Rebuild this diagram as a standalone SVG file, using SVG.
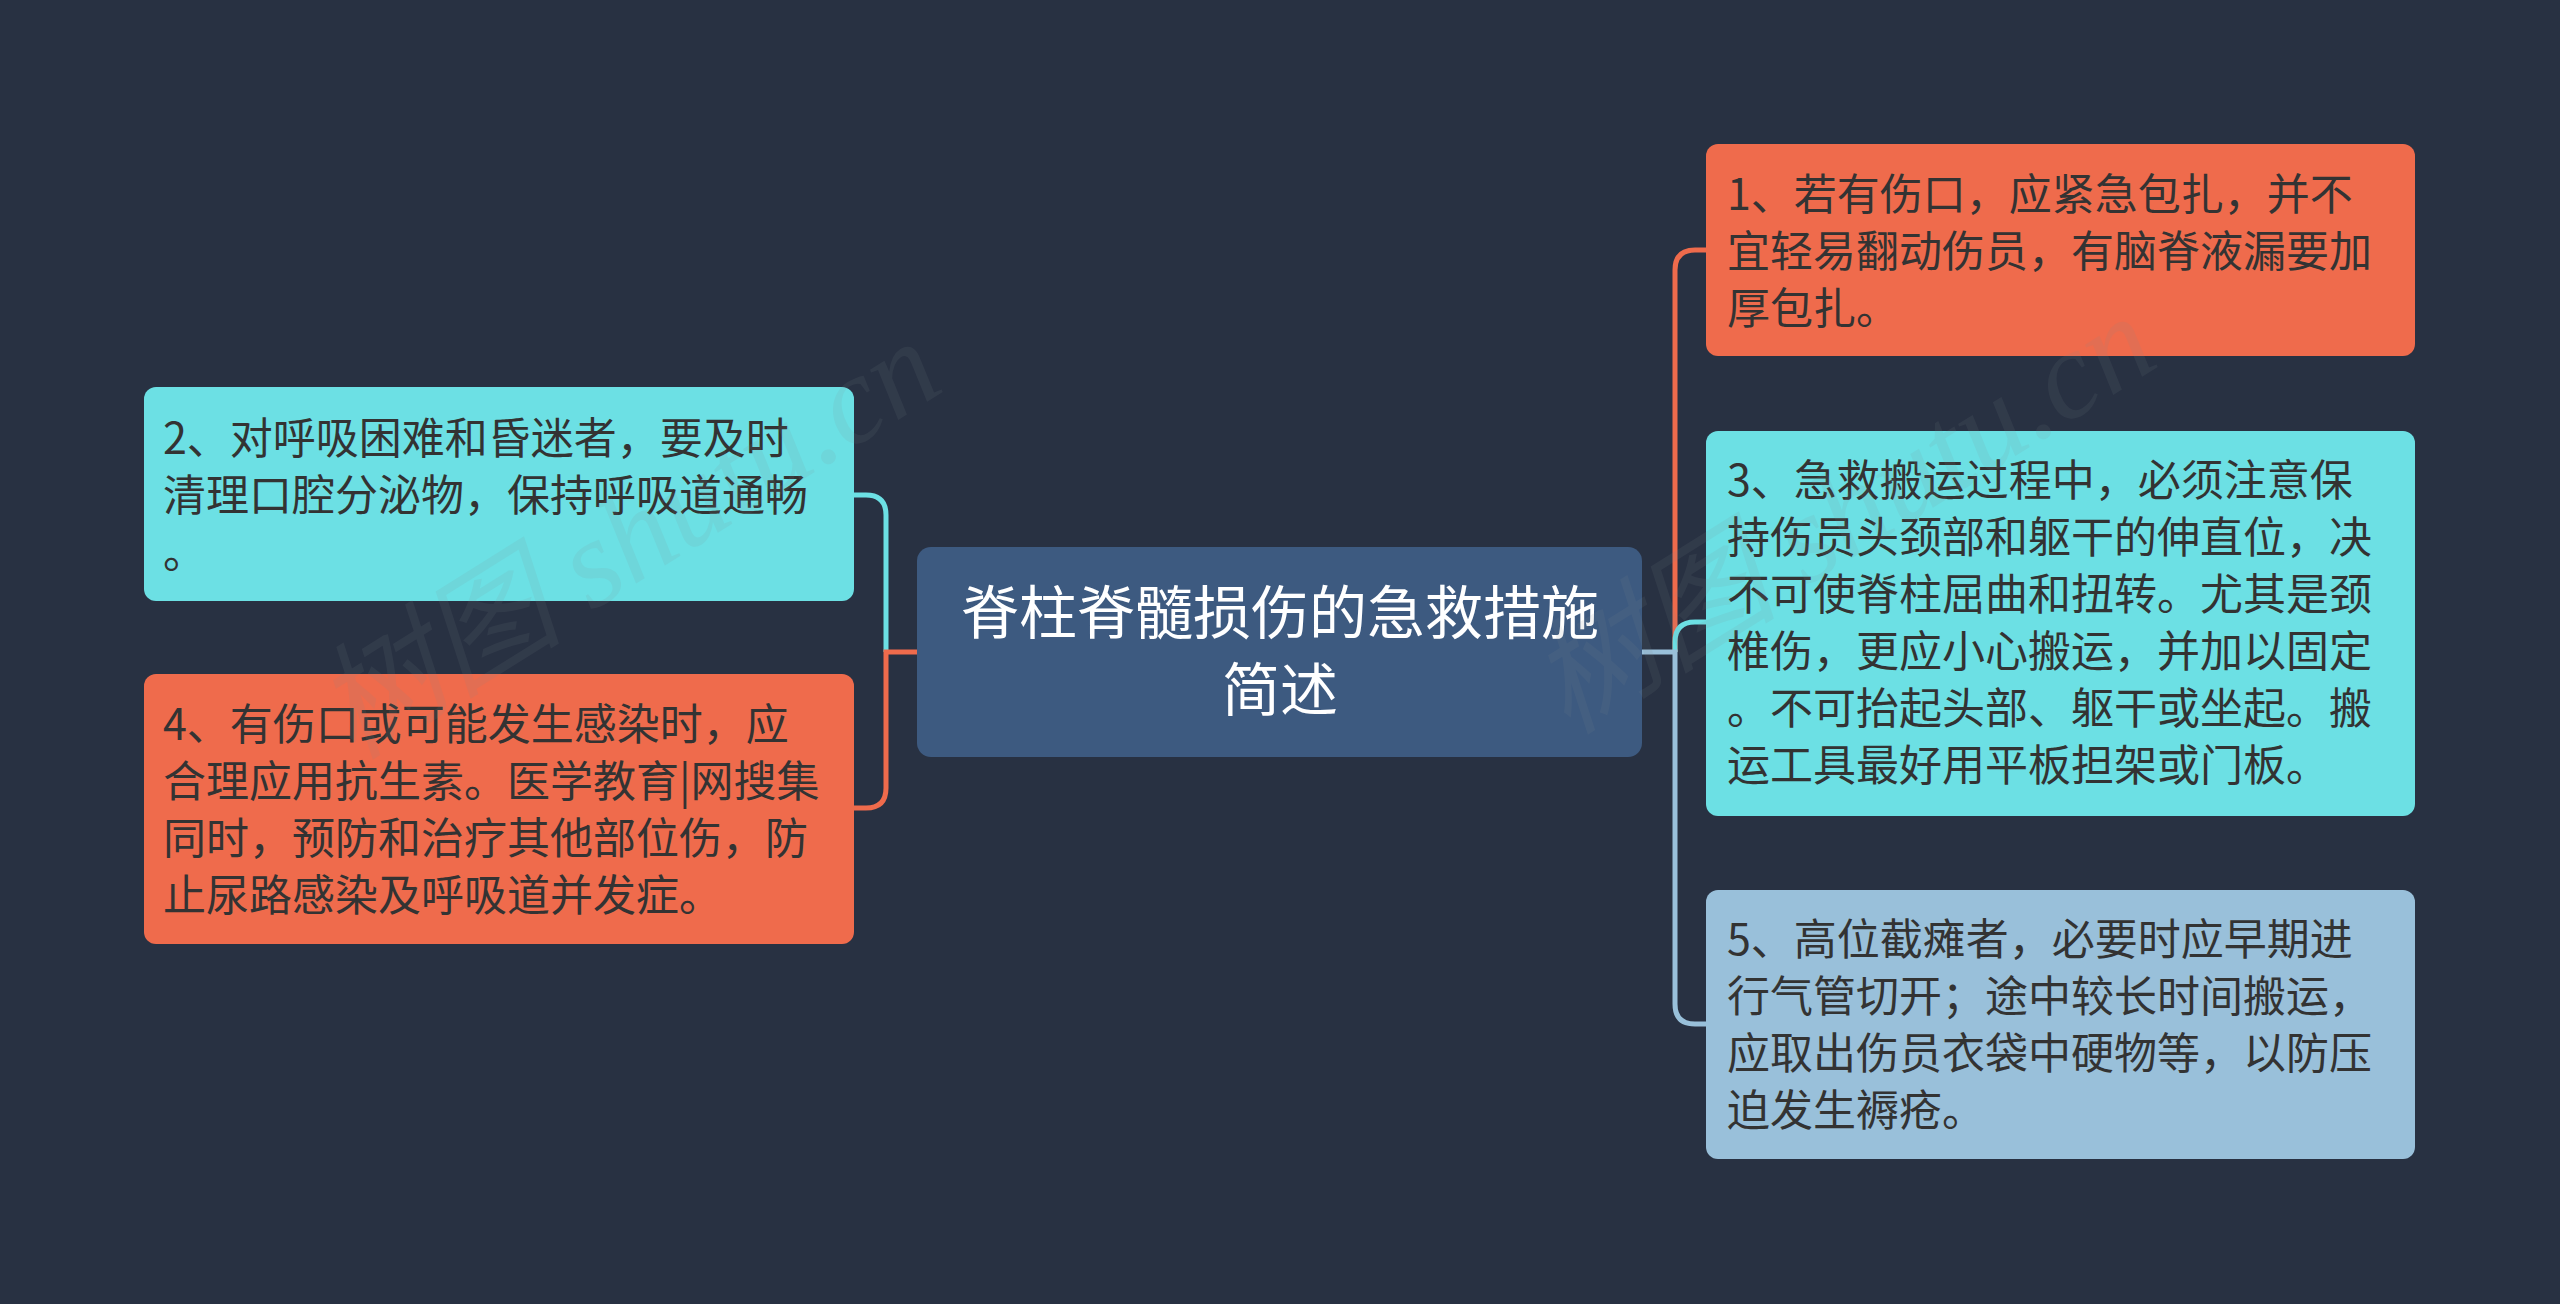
<svg xmlns="http://www.w3.org/2000/svg" width="2560" height="1304" viewBox="0 0 2560 1304">
<style>
.bg{fill:#283142}
.center{fill:#3d5a80}
.orange{fill:#ef6b4c}
.cyan{fill:#6ce0e4}
.lblue{fill:#99c0da}
.t{font-family:"Noto Sans CJK SC","Noto Sans",sans-serif;font-size:43px;fill:#333333}
.ct{font-family:"Noto Sans CJK SC","Noto Sans",sans-serif;font-size:58px;fill:#ffffff;text-anchor:middle}
.c{fill:none;stroke-width:5;stroke-linecap:butt}
.wm{font-family:"Liberation Serif","Noto Sans CJK SC",serif;font-size:125px;font-style:italic;fill:#7f8a8e;opacity:0.11;text-anchor:middle}
</style>
<rect class="bg" x="0" y="0" width="2560" height="1304"/>
<g id="connectors">
  <path class="c" stroke="#6ce0e4" d="M886,652 V515 Q886,495 866,495 H852"/>
  <path class="c" stroke="#ef6b4c" d="M919,652 H886 V788 Q886,808 866,808 H852"/>
  <path class="c" stroke="#ef6b4c" d="M1675,652 V270 Q1675,250 1695,250 H1708"/>
  <path class="c" stroke="#6ce0e4" d="M1675,652 V642 Q1675,622 1695,622 H1708"/>
  <path class="c" stroke="#99c0da" d="M1640,652 H1675 V1004 Q1675,1024 1695,1024 H1708"/>
</g>
<g id="node-center">
  <rect class="center" x="917" y="547" width="725" height="210" rx="14"/>
  <text class="ct" x="1280" y="634">脊柱脊髓损伤的急救措施</text>
  <text class="ct" x="1280" y="711">简述</text>
</g>
<g id="node-1">
  <rect class="orange" x="1706" y="144" width="709" height="212" rx="12"/>
  <text class="t" x="1727" y="210">1、若有伤口，应紧急包扎，并不</text>
  <text class="t" x="1727" y="267">宜轻易翻动伤员，有脑脊液漏要加</text>
  <text class="t" x="1727" y="324">厚包扎。</text>
</g>
<g id="node-3">
  <rect class="cyan" x="1706" y="431" width="709" height="385" rx="12"/>
  <text class="t" x="1727" y="496">3、急救搬运过程中，必须注意保</text>
  <text class="t" x="1727" y="553">持伤员头颈部和躯干的伸直位，决</text>
  <text class="t" x="1727" y="610">不可使脊柱屈曲和扭转。尤其是颈</text>
  <text class="t" x="1727" y="667">椎伤，更应小心搬运，并加以固定</text>
  <text class="t" x="1727" y="724">。不可抬起头部、躯干或坐起。搬</text>
  <text class="t" x="1727" y="781">运工具最好用平板担架或门板。</text>
</g>
<g id="node-5">
  <rect class="lblue" x="1706" y="890" width="709" height="269" rx="12"/>
  <text class="t" x="1727" y="955">5、高位截瘫者，必要时应早期进</text>
  <text class="t" x="1727" y="1012">行气管切开；途中较长时间搬运，</text>
  <text class="t" x="1727" y="1069">应取出伤员衣袋中硬物等，以防压</text>
  <text class="t" x="1727" y="1126">迫发生褥疮。</text>
</g>
<g id="node-2">
  <rect class="cyan" x="144" y="387" width="710" height="214" rx="12"/>
  <text class="t" x="163" y="454">2、对呼吸困难和昏迷者，要及时</text>
  <text class="t" x="163" y="511">清理口腔分泌物，保持呼吸道通畅</text>
  <text class="t" x="163" y="568">。</text>
</g>
<g id="node-4">
  <rect class="orange" x="144" y="674" width="710" height="270" rx="12"/>
  <text class="t" x="163" y="740">4、有伤口或可能发生感染时，应</text>
  <text class="t" x="163" y="797">合理应用抗生素。医学教育|网搜集</text>
  <text class="t" x="163" y="854">同时，预防和治疗其他部位伤，防</text>
  <text class="t" x="163" y="911">止尿路感染及呼吸道并发症。</text>
</g>
<g id="watermark">
  <text class="wm" x="650" y="575" transform="rotate(-32 650 575)">树图 shutu.cn</text>
  <text class="wm" x="1865" y="550" transform="rotate(-32 1865 550)">树图 shutu.cn</text>
</g>
</svg>
